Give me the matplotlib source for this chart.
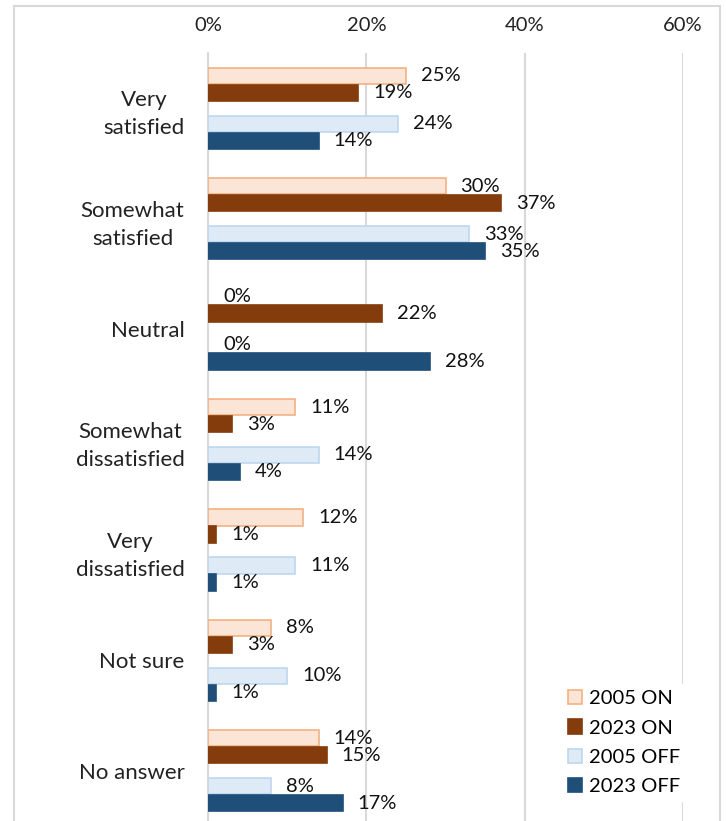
import matplotlib.pyplot as plt
import matplotlib.patches as mpatches
import numpy as np

plt.rcParams['font.family'] = ['Lato', 'DejaVu Sans']

# categories (top to bottom) and the four series, in percent
categories = ['Very\nsatisfied', 'Somewhat\nsatisfied', 'Neutral',
              'Somewhat\ndissatisfied', 'Very\ndissatisfied', 'Not sure',
              'No answer']
on_2005 = [25, 30, 0, 11, 12, 8, 14]
on_2023 = [19, 37, 22, 3, 1, 3, 15]
off_2005 = [24, 33, 0, 14, 11, 10, 8]
off_2023 = [14, 35, 28, 4, 1, 1, 17]
series_names = ['2005 ON', '2023 ON', '2005 OFF', '2023 OFF']
xticks = [0, 20, 40, 60]

faces = ['#FBE5D6', '#843C0C', '#DEEBF7', '#1F4E79']
edges = ['#F4B183', '#843C0C', '#BDD7EE', '#1F4E79']
offsets = [-0.294, -0.140, 0.140, 0.294]
bar_h = 0.148

W, H = 726, 821
fig = plt.figure(figsize=(W / 100, H / 100), dpi=100)
ax = fig.add_axes([208 / W, -5 / H, 475 / W, (826 - 53) / H])

# outer chart frame
fig.patches.append(mpatches.Rectangle((14 / W, -0.05), 706 / W, (H - 6) / H + 0.05,
                                      transform=fig.transFigure, fill=False,
                                      edgecolor='#d9d9d9', linewidth=1.5))

y = np.arange(len(categories))
all_series = [on_2005, on_2023, off_2005, off_2023]
for vals, name, fc, ec, off in zip(all_series, series_names, faces, edges, offsets):
    ax.barh(y + off, vals, height=bar_h, color=fc, edgecolor=ec,
            linewidth=[1.2 if v else 0 for v in vals], label=name, zorder=3)
    for yi, v in zip(y, vals):
        ax.annotate(f'{v}%', (v, yi + off), xytext=(15, 0),
                    textcoords='offset pixels', ha='left', va='center',
                    fontsize=14.5, color='#111111', zorder=4)

ax.set_xlim(0, 60)
ax.set_ylim(len(categories) - 0.5, -0.5)
ax.set_xticks(xticks)
ax.set_xticklabels([f'{t}%' for t in xticks])
ax.xaxis.tick_top()
ax.tick_params(axis='x', length=0, pad=14, labelsize=14.5, labelcolor='#222222')
ax.set_yticks(y)
ax.set_yticklabels(categories, multialignment='center', linespacing=1.5)
ax.tick_params(axis='y', length=0, pad=17, labelsize=16, labelcolor='#222222')
ax.grid(axis='x', color='#d9d9d9', linewidth=1.5, zorder=0)
for s in ['top', 'right', 'bottom']:
    ax.spines[s].set_visible(False)
ax.spines['left'].set_color('#d9d9d9')
ax.spines['left'].set_linewidth(1.5)

leg = ax.legend(loc='lower left', bbox_to_anchor=(552 / W, 10 / H),
                bbox_transform=fig.transFigure, frameon=True,
                fontsize=14.5, handlelength=0.7, handleheight=0.7,
                handletextpad=0.35, labelspacing=0.6, borderpad=0.3)
leg.get_frame().set_edgecolor('white')
leg.get_frame().set_facecolor('white')
leg.get_frame().set_alpha(1)
leg.set_zorder(5)

fig.savefig('out.png', dpi=100)
